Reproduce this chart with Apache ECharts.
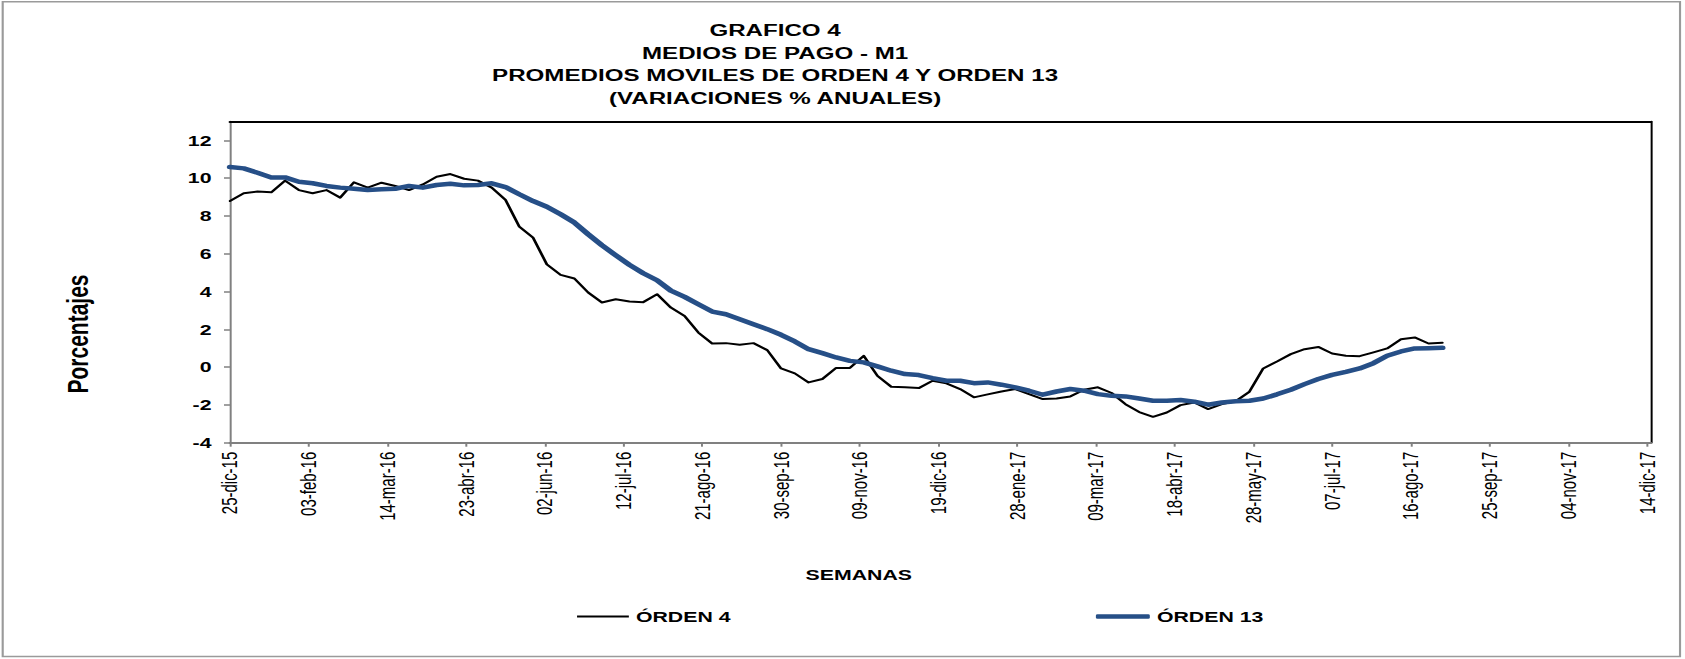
<!DOCTYPE html>
<html>
<head>
<meta charset="utf-8">
<title>Grafico 4 - Medios de pago M1</title>
<script src="https://cdn.jsdelivr.net/npm/echarts@6.0.0/dist/echarts.min.js"></script>
<style>
  html, body { margin: 0; padding: 0; background: #fff; overflow: hidden; }
  /* el grafico original viene estirado en horizontal: se dibuja angosto y se estira */
  #chart { width: 1187px; height: 659px; transform: scaleX(1.41954); transform-origin: 0 0; }
</style>
</head>
<body>
<div id="chart"></div>
<script>
  // semanas desde el 25-dic-15 (eje en dias)
  const diasSemana = 7;
  const xTickLabels = ['25-dic-15', '03-feb-16', '14-mar-16', '23-abr-16', '02-jun-16', '12-jul-16',
    '21-ago-16', '30-sep-16', '09-nov-16', '19-dic-16', '28-ene-17', '09-mar-17', '18-abr-17',
    '28-may-17', '07-jul-17', '16-ago-17', '25-sep-17', '04-nov-17', '14-dic-17'];
  const yTicks = [-4, -2, 0, 2, 4, 6, 8, 10, 12];

  const tituloLineas = ['GRAFICO 4', 'MEDIOS DE PAGO - M1', 'PROMEDIOS MOVILES DE ORDEN 4 Y ORDEN 13', '(VARIACIONES % ANUALES)'];

  const orden4 = [
    8.79, 9.20, 9.29, 9.25, 9.87, 9.37, 9.20, 9.37, 8.97, 9.78,
    9.50, 9.76, 9.59, 9.37, 9.67, 10.08, 10.22, 9.97, 9.87, 9.50,
    8.85, 7.44, 6.85, 5.44, 4.88, 4.69, 3.95, 3.42, 3.59, 3.47,
    3.44, 3.86, 3.15, 2.71, 1.83, 1.25, 1.27, 1.18, 1.27, 0.90,
    -0.07, -0.33, -0.81, -0.63, -0.04, -0.04, 0.60, -0.46, -1.04, -1.06,
    -1.11, -0.72, -0.86, -1.16, -1.60, -1.44, -1.29, -1.16, -1.43, -1.69,
    -1.66, -1.55, -1.20, -1.07, -1.37, -1.96, -2.38, -2.63, -2.40, -2.01,
    -1.87, -2.22, -1.96, -1.81, -1.30, -0.07, 0.30, 0.69, 0.95, 1.07,
    0.72, 0.60, 0.58, 0.78, 0.99, 1.48, 1.57, 1.25, 1.29
  ];
  const orden13 = [
    10.59, 10.52, 10.29, 10.04, 10.04, 9.81, 9.73, 9.59, 9.50, 9.44,
    9.37, 9.41, 9.44, 9.59, 9.50, 9.64, 9.71, 9.62, 9.64, 9.73,
    9.53, 9.15, 8.79, 8.49, 8.09, 7.65, 7.03, 6.45, 5.92, 5.41,
    4.97, 4.60, 4.05, 3.72, 3.33, 2.94, 2.80, 2.54, 2.27, 2.01,
    1.71, 1.36, 0.95, 0.74, 0.51, 0.33, 0.25, 0.04, -0.19, -0.37,
    -0.42, -0.58, -0.72, -0.72, -0.85, -0.81, -0.93, -1.07, -1.25, -1.46,
    -1.29, -1.16, -1.25, -1.43, -1.52, -1.55, -1.66, -1.78, -1.78, -1.74,
    -1.83, -1.99, -1.87, -1.81, -1.78, -1.66, -1.44, -1.20, -0.90, -0.63,
    -0.41, -0.25, -0.07, 0.21, 0.60, 0.83, 0.99, 1.00, 1.02
  ];

  const FONT = '"Liberation Sans", Arial, sans-serif';
  const AZUL = '#264f87';
  const tickDias = xTickLabels.map((_, i) => i * 40);
  const toPoints = vals => vals.map((v, i) => [i * diasSemana, v]);
  const legendText = { fontFamily: FONT, fontSize: 15, fontWeight: 'bold', color: '#000' };

  const chart = echarts.init(document.getElementById('chart'), null, { renderer: 'svg' });
  chart.setOption({
    backgroundColor: '#fff',
    animation: false,
    title: [{
      text: tituloLineas.join('\n'),
      left: 546, top: 19, padding: 0,
      textAlign: 'center',
      textStyle: { fontFamily: FONT, fontSize: 17, fontWeight: 'bold', color: '#000', lineHeight: 22.5 }
    }, {
      text: 'SEMANAS',
      left: 605, top: 567, padding: 0,
      textAlign: 'center',
      textStyle: { fontFamily: FONT, fontSize: 15, fontWeight: 'bold', color: '#000' }
    }],
    legend: [{
      data: ['ÓRDEN 4'], left: 406.5, top: 609, padding: 0,
      icon: 'rect', itemWidth: 36.5, itemHeight: 2,
      textStyle: legendText
    }, {
      data: ['ÓRDEN 13'], left: 772, top: 609, padding: 0,
      icon: 'roundRect', itemWidth: 38, itemHeight: 4.5,
      textStyle: legendText
    }],
    grid: { left: 162, right: 24, top: 121.5, bottom: 216.3 },
    xAxis: [{
      type: 'value', min: 0, max: 722, interval: 40,
      axisLine: { onZero: false, lineStyle: { color: '#808080', width: 2 } },
      axisTick: { show: true, customValues: tickDias, length: 4, lineStyle: { color: '#808080', width: 1.4 } },
      axisLabel: {
        customValues: tickDias, rotate: 90, margin: 9,
        fontFamily: FONT, fontSize: 15, color: '#000',
        formatter: v => (v % 40 === 0 ? xTickLabels[v / 40] : '')
      },
      splitLine: { show: false }
    }, {
      type: 'value', position: 'top', min: 0, max: 722,
      axisLine: { onZero: false, lineStyle: { color: '#000', width: 2 } },
      axisTick: { show: false }, axisLabel: { show: false }, splitLine: { show: false }
    }],
    yAxis: [{
      type: 'value', min: -4, max: 13, interval: 2,
      axisLine: { show: true, onZero: false, lineStyle: { color: '#808080', width: 1.4 } },
      axisTick: { show: true, customValues: yTicks, length: 4.2, lineStyle: { color: '#808080', width: 1.5 } },
      axisLabel: {
        customValues: yTicks, margin: 13,
        fontFamily: FONT, fontSize: 15, fontWeight: 'bold', color: '#000'
      },
      splitLine: { show: false }
    }, {
      type: 'value', position: 'right', min: -4, max: 13,
      axisLine: { show: true, onZero: false, lineStyle: { color: '#000', width: 1.4 } },
      axisTick: { show: false }, axisLabel: { show: false }, splitLine: { show: false }
    }],
    graphic: [{
      type: 'rect', silent: true, z: -1,
      shape: { x: 1.9, y: 1.8, width: 1181.6, height: 654.8 },
      style: { fill: null, stroke: '#9a9a9a', lineWidth: 1.5 }
    }, {
      type: 'text', x: 54.5, y: 334, rotation: Math.PI / 2, silent: true,
      style: {
        text: 'Porcentajes', fontFamily: FONT, fontSize: 21, fontWeight: 'bold',
        fill: '#000', align: 'center', verticalAlign: 'middle'
      }
    }],
    series: [{
      name: 'ÓRDEN 4', type: 'line', data: toPoints(orden4),
      symbol: 'none', z: 2,
      lineStyle: { color: '#000', width: 2, join: 'round', cap: 'round' },
      itemStyle: { color: '#000' }
    }, {
      name: 'ÓRDEN 13', type: 'line', data: toPoints(orden13),
      symbol: 'none', z: 3,
      lineStyle: { color: AZUL, width: 4.5, join: 'round', cap: 'round' },
      itemStyle: { color: AZUL }
    }]
  });
</script>
</body>
</html>
